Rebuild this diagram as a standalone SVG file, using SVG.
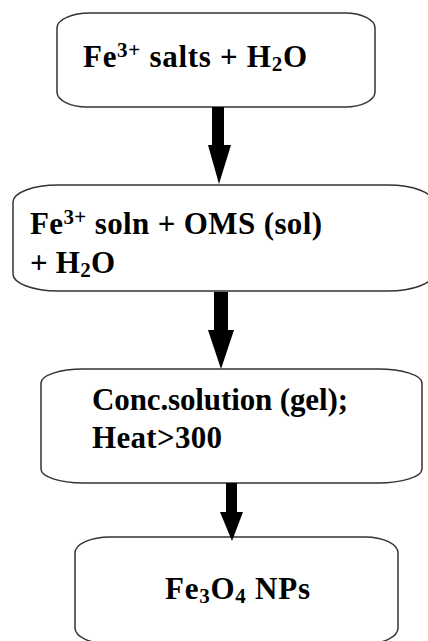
<svg xmlns="http://www.w3.org/2000/svg" width="428" height="641" viewBox="0 0 428 641">
<style>
.box{fill:#fff;stroke:#333;stroke-width:1.5}
.t{font-family:'Liberation Serif','Times New Roman',serif;font-weight:700;font-size:31px;fill:#000}
.s{font-size:21px}
.arr{fill:#000}
</style>
<rect width="428" height="641" fill="#fff"/>
<g id="n1">
<path class="box" d="M90,13 H345 A30,15 0 0 1 375,28 V92 A30,15 0 0 1 345,107 H87 A30,15 0 0 1 57,92 V28 A33,15 0 0 1 90,13 Z"/>
<text class="t" x="83" y="67" textLength="224">Fe<tspan class="s" dy="-10">3+</tspan><tspan dy="10"> salts + H</tspan><tspan class="s" dy="4">2</tspan><tspan dy="-4">O</tspan></text>
</g>
<g id="n2">
<path class="box" d="M58,185 H388 A45,17 0 0 1 433,202 V274 A45,17 0 0 1 388,291 H58 A45,17 0 0 1 13,274 V202 A45,17 0 0 1 58,185 Z"/>
<text class="t" x="30" y="234" textLength="292">Fe<tspan class="s" dy="-10">3+</tspan><tspan dy="10"> soln + OMS (sol)</tspan></text>
<text class="t" x="30" y="273" textLength="85">+ H<tspan class="s" dy="4">2</tspan><tspan dy="-4">O</tspan></text>
</g>
<g id="n3">
<path class="box" d="M83,369 H378 A44,14 0 0 1 422,383 V469 A44,14 0 0 1 378,483 H83 A42,14 0 0 1 41,469 V383 A42,14 0 0 1 83,369 Z"/>
<text class="t" x="92" y="410" textLength="256">Conc.solution (gel);</text>
<text class="t" x="92" y="448" textLength="130">Heat&gt;300</text>
</g>
<g id="n4">
<path class="box" d="M110,537 H365 A33,16 0 0 1 398,553 V628 A33,16 0 0 1 365,644 H110 A35,16 0 0 1 75,628 V553 A35,16 0 0 1 110,537 Z"/>
<text class="t" x="165" y="599" textLength="145">Fe<tspan class="s" dy="4">3</tspan><tspan dy="-4">O</tspan><tspan class="s" dy="4">4</tspan><tspan dy="-4"> NPs</tspan></text>
</g>
<g id="connectors">
<polygon class="arr" points="212,107 224,107 224,145 231,145 219,184 208,145 212,145"/>
<polygon class="arr" points="214,292 228,292 228,330 234,330 221,369 208,330 214,330"/>
<polygon class="arr" points="226,483 237,483 237,512 243,512 232,541 220,512 226,512"/>
</g>
</svg>
